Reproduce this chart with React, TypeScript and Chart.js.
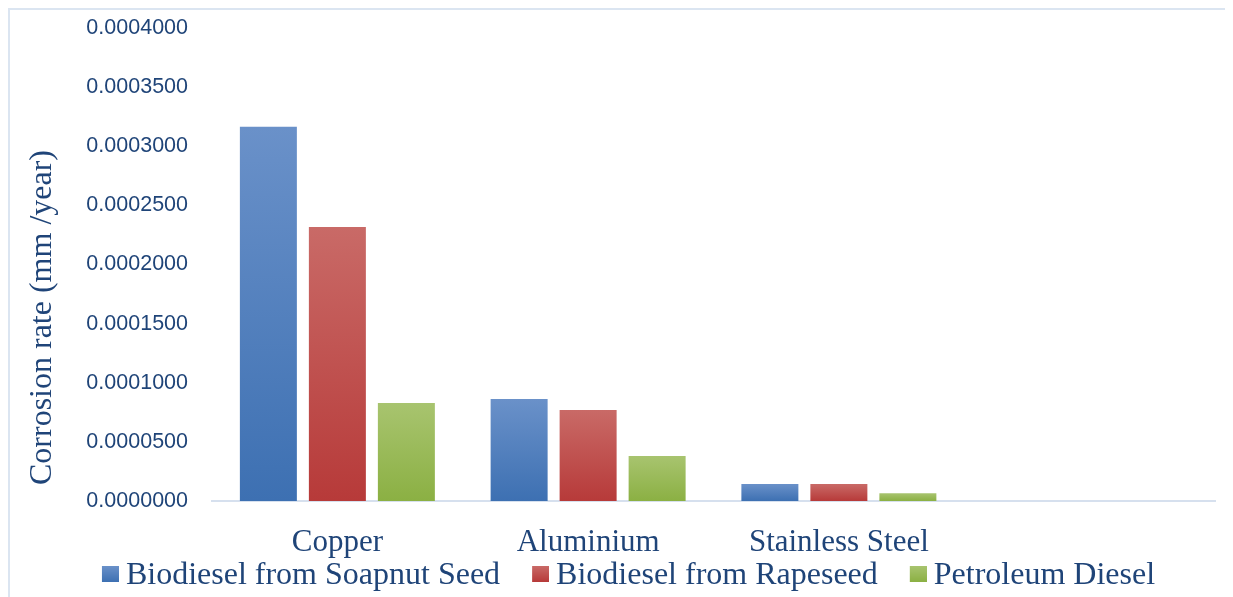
import React, { useEffect, useRef } from "react";
import { Chart, registerables } from "chart.js";

Chart.register(...registerables);

const categories = ["Copper", "Aluminium", "Stainless Steel", ""];
const seriesNames = ["Biodiesel from Soapnut Seed", "Biodiesel from Rapeseed", "Petroleum Diesel"];
const soapnut = [0.0003165, 0.0000863, 0.0000144, null];
const rapeseed = [0.0002317, 0.000077, 0.0000144, null];
const petroleum = [0.0000829, 0.0000381, 0.0000065, null];
const yTicksMax = 0.0004;
const yTicksStep = 0.00005;
const yTitle = "Corrosion rate (mm /year)";

const gradTop = ["#6a91c9", "#c96a67", "#a8c46f"];
const gradBottom = ["#3d70b2", "#b73a39", "#8bb043"];

const TEXT = "#1f4478";
const SERIF = "'Liberation Serif', 'Times New Roman', serif";

// legend marker: transparent left part, 17x16 gradient square on the right
const ICON_OFFSET = 41;
function makeLegendIcon(top: string, bottom: string) {
  const c = document.createElement("canvas");
  c.width = ICON_OFFSET + 17;
  c.height = 20;
  const g = c.getContext("2d")!;
  const gr = g.createLinearGradient(0, 0, 0, 16);
  gr.addColorStop(0, top);
  gr.addColorStop(1, bottom);
  g.fillStyle = gr;
  g.fillRect(ICON_OFFSET, 0, 17, 16);
  return c;
}

function gradientFill(i: number) {
  return (ctx: any) => {
    const chart = ctx.chart;
    const ys = chart.scales && chart.scales.y;
    const v = ctx.raw;
    if (!chart.chartArea || !ys || v == null || ctx.type !== "data") return gradBottom[i];
    const yTop = ys.getPixelForValue(v);
    const yBot = ys.getPixelForValue(0);
    if (!isFinite(yTop) || !isFinite(yBot) || yTop === yBot) return gradBottom[i];
    const g = chart.ctx.createLinearGradient(0, yTop, 0, yBot);
    g.addColorStop(0, gradTop[i]);
    g.addColorStop(1, gradBottom[i]);
    return g;
  };
}

export default function App() {
  const ref = useRef<HTMLCanvasElement>(null);

  useEffect(() => {
    if (!ref.current) return;
    const icons = [0, 1, 2].map((i) => makeLegendIcon(gradTop[i], gradBottom[i]));
    const seriesData = [soapnut, rapeseed, petroleum];
    const chart = new Chart(ref.current, {
      type: "bar",
      data: {
        labels: categories,
        datasets: seriesNames.map((name, i) => ({
          label: name,
          data: seriesData[i],
          backgroundColor: gradientFill(i),
          borderWidth: 0,
          categoryPercentage: 0.8255,
          barPercentage: 0.826,
        })),
      },
      options: {
        animation: false,
        responsive: false,
        devicePixelRatio: 1,
        layout: { padding: { left: 0, right: 16, top: 18, bottom: 8 } },
        plugins: {
          tooltip: { enabled: false },
          legend: {
            position: "bottom",
            labels: {
              usePointStyle: true,
              pointStyleWidth: 40,
              boxHeight: 16,
              padding: 0,
              color: TEXT,
              font: { family: SERIF, size: 32 },
              generateLabels: (chart: any) => {
                const items = Chart.defaults.plugins.legend.labels.generateLabels(chart);
                return items.map((it: any, i: number) => ({ ...it, pointStyle: icons[i] }));
              },
            },
          },
        },
        scales: {
          x: {
            grid: { display: false, drawTicks: false },
            border: { display: true, color: "#d6e0ee", width: 2 },
            ticks: {
              color: TEXT,
              font: { family: SERIF, size: 31, lineHeight: 1 },
              padding: 26,
              maxRotation: 0,
              autoSkip: false,
            },
            afterFit: (s: any) => {
              s.height = 59;
              s.paddingLeft = 0;
              s.paddingRight = 0;
            },
          },
          y: {
            min: 0,
            max: yTicksMax,
            grid: { display: false, drawTicks: false },
            border: { display: false },
            ticks: {
              stepSize: yTicksStep,
              color: TEXT,
              padding: 24,
              font: { family: "'Liberation Sans', Arial, sans-serif", size: 21.5 },
              callback: (v: any) => Number(v).toFixed(7),
            },
            title: {
              display: true,
              text: "  " + yTitle,
              color: TEXT,
              align: "start",
              padding: { top: 16.4, bottom: 0 },
              font: { family: SERIF, size: 32, lineHeight: 1 },
            },
            afterFit: (s: any) => {
              s.width = 202;
              s.paddingTop = 12;
              s.paddingBottom = 12;
            },
          },
        },
      },
    });
    return () => chart.destroy();
  }, []);

  return (
    <div
      style={{
        width: 1225,
        height: 589,
        boxSizing: "border-box",
        borderLeft: "2px solid #dbe5f1",
        borderTop: "2px solid #dbe5f1",
        borderRight: "2px solid #dbe5f1",
        overflow: "hidden",
        background: "#ffffff",
      }}
    >
      <canvas ref={ref} width={1221} height={600} style={{ display: "block", width: 1221, height: 600 }} />
    </div>
  );
}
